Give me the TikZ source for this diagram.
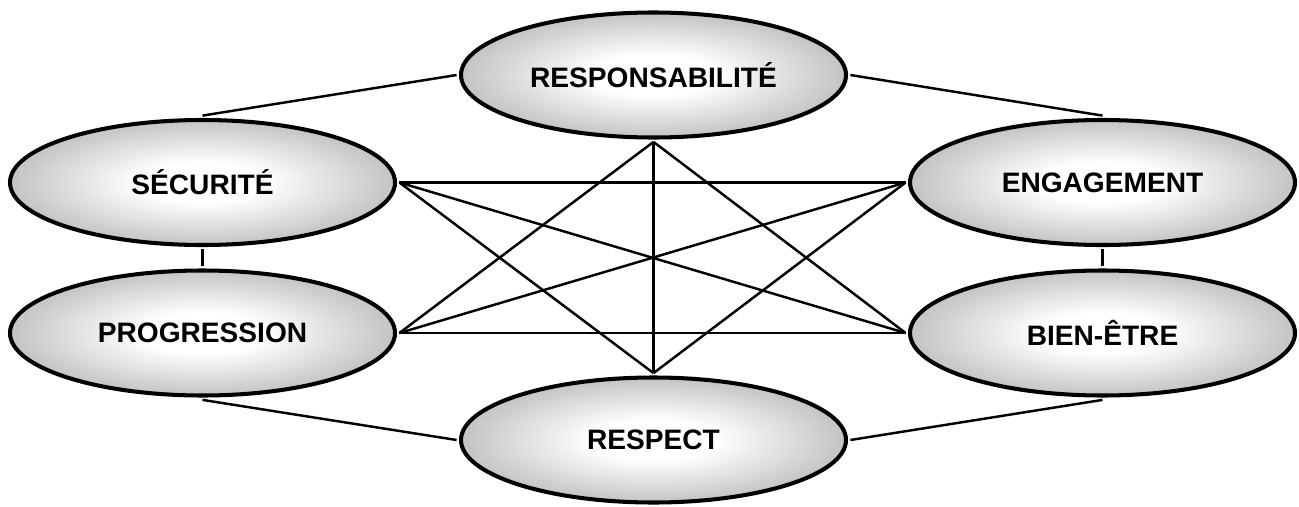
\documentclass[tikz,border=0pt]{standalone}
\usepackage{fontspec}
\setmainfont{Liberation Sans}
\usetikzlibrary{shapes.geometric}
\pgfdeclareradialshading{ovalglow}{\pgfpoint{0bp}{0bp}}{color(0bp)=(white); color(8bp)=(white); color(24bp)=(black!22); color(50bp)=(black!52); color(100bp)=(black!52)}

\begin{document}
\begin{tikzpicture}%
  [font=\fontsize{16}{19}\selectfont\bfseries]
  \tikzstyle{val node}=[ellipse,draw=black,line width=2.3pt,shading=ovalglow,minimum width=7.7cm,minimum height=2.5cm,inner sep=0,outer sep=2.5pt]
  \tikzstyle{link}=[line width=1.4pt]
  \useasboundingbox (0,0) rectangle (25.98,10.12);
  % the six values
  \node(resp)[val node] at (13.07,8.62){RESPONSABILITÉ};
  \node(sec)[val node] at (4.05,6.47){SÉCURITÉ};
  \node(prog)[val node] at (4.05,3.46){PROGRESSION};
  \node(eng)[val node] at (22.05,6.47){ENGAGEMENT};
  \node(bien)[val node] at (22.05,3.46){BIEN-ÊTRE};
  \node(rspt)[val node] at (13.07,1.32){RESPECT};
  % outer ring
  \draw[link] (resp.west) -- (sec.north);
  \draw[link] (resp.east) -- (eng.north);
  \draw[link] (sec.south) -- (prog.north);
  \draw[link] (eng.south) -- (bien.north);
  \draw[link] (prog.south) -- (rspt.west);
  \draw[link] (bien.south) -- (rspt.east);
  % inner star
  \draw[link] (sec.east) -- (eng.west);
  \draw[link] (prog.east) -- (bien.west);
  \draw[link] (sec.east) -- (bien.west);
  \draw[link] (prog.east) -- (eng.west);
  \draw[link] (resp.south) -- (prog.east);
  \draw[link] (resp.south) -- (bien.west);
  \draw[link] (rspt.north) -- (sec.east);
  \draw[link] (rspt.north) -- (eng.west);
  \draw[link] (resp.south) -- (rspt.north);
\end{tikzpicture}
\end{document}
